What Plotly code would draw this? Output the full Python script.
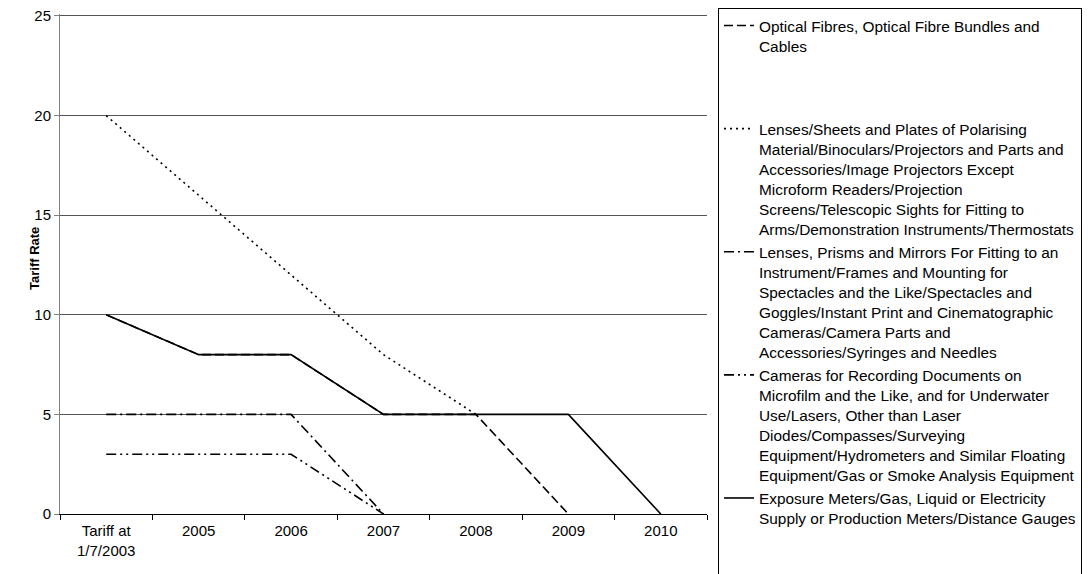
import plotly.graph_objects as go

categories = ["Tariff at<br>1/7/2003", "2005", "2006", "2007", "2008", "2009", "2010"]

optical_fibres = [10, 8, 8, 5, 5, 0, None]
lenses_sheets = [20, 16, 12, 8, 5, None, None]
lenses_prisms = [5, 5, 5, 0, None, None, None]
cameras = [3, 3, 3, 0, None, None, None]
exposure_meters = [10, 8, 8, 5, 5, 5, 0]

y_title = "Tariff Rate"

names = [
    "Optical Fibres, Optical Fibre Bundles and<br>Cables<br> <br> <br> ",
    "Lenses/Sheets and Plates of Polarising<br>Material/Binoculars/Projectors and Parts and<br>Accessories/Image Projectors Except<br>Microform Readers/Projection<br>Screens/Telescopic Sights for Fitting to<br>Arms/Demonstration Instruments/Thermostats",
    "Lenses, Prisms and Mirrors For Fitting to an<br>Instrument/Frames and Mounting for<br>Spectacles and the Like/Spectacles and<br>Goggles/Instant Print and Cinematographic<br>Cameras/Camera Parts and<br>Accessories/Syringes and Needles",
    "Cameras for Recording Documents on<br>Microfilm and the Like, and for Underwater<br>Use/Lasers, Other than Laser<br>Diodes/Compasses/Surveying<br>Equipment/Hydrometers and Similar Floating<br>Equipment/Gas or Smoke Analysis Equipment",
    "Exposure Meters/Gas, Liquid or Electricity<br>Supply or Production Meters/Distance Gauges<br> <br> <br> ",
]
series = [optical_fibres, lenses_sheets, lenses_prisms, cameras, exposure_meters]
dashes = ["9px,4px", "2px,4px", "10px,4px,2px,4px", "10px,4px,2px,4px,2px,4px", "solid"]

fig = go.Figure()
for name, vals, dash in zip(names, series, dashes):
    fig.add_trace(go.Scatter(
        x=categories, y=vals, name=name, mode="lines",
        line=dict(color="black", width=1.6, dash=dash),
        connectgaps=False,
    ))

FONT = "Arial, Liberation Sans, sans-serif"
fig.update_layout(
    width=1084, height=566,
    margin=dict(l=52, r=385, t=6, b=60, autoexpand=False),
    paper_bgcolor="white", plot_bgcolor="white",
    font=dict(family=FONT, size=15, color="black"),
    showlegend=True,
    legend=dict(
        x=1.0170, y=1.012, xanchor="left", yanchor="top",
        bordercolor="black", borderwidth=1,
        font=dict(family=FONT, size=15.4, color="black"),
        valign="top", tracegroupgap=0,
        bgcolor="white", maxheight=700,
    ),
    xaxis=dict(
        type="category", range=[-0.5, 6.5], showgrid=False,
        showline=True, linecolor="black", linewidth=1,
        ticks="outside", tickson="boundaries", ticklen=5, tickcolor="black",
        tickfont=dict(size=15), zeroline=False, ticklabelstandoff=3,
    ),
    yaxis=dict(
        range=[0, 25.1], dtick=5, tick0=0,
        showgrid=True, gridcolor="#555555", gridwidth=1,
        showline=True, linecolor="#808080", linewidth=1,
        ticks="outside", ticklen=5, tickcolor="#808080",
        tickfont=dict(size=15), zeroline=False,
        ticklabeloverflow="allow",
    ),
    annotations=[dict(
        text="<b>" + y_title + "</b>", xref="paper", yref="paper",
        x=-0.0402, y=0.512, xanchor="center", yanchor="middle",
        textangle=-90, showarrow=False, font=dict(size=13, family=FONT),
    )],
)

fig.write_html("out.html")
